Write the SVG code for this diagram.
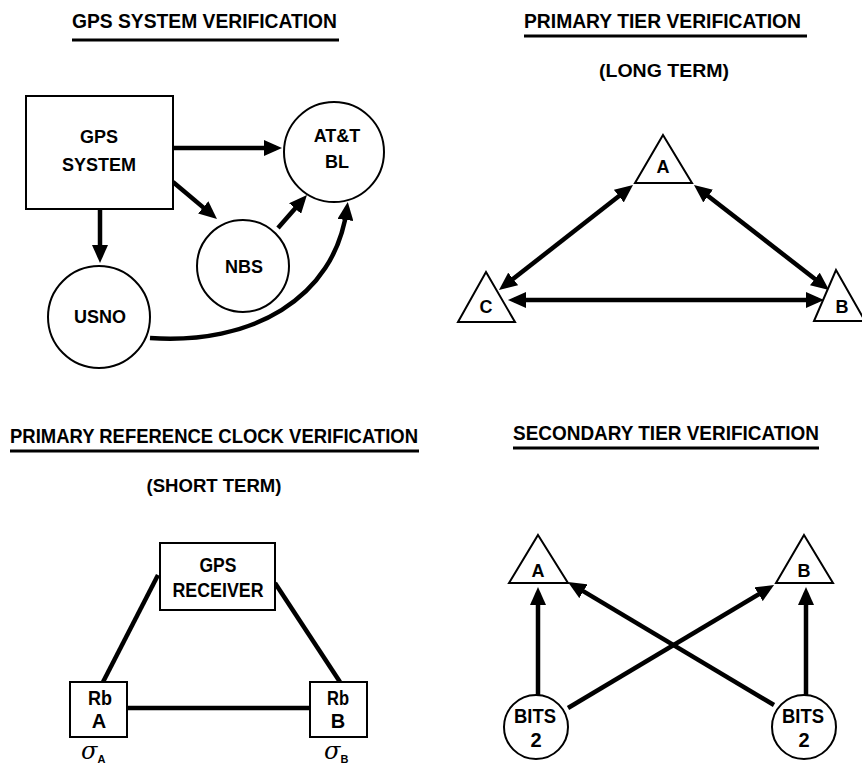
<svg xmlns="http://www.w3.org/2000/svg" width="862" height="767" viewBox="0 0 862 767">
<style>
text{font-family:"Liberation Sans",Arial,sans-serif;font-weight:bold;fill:#000;text-anchor:middle}
.title{font-size:21px;text-anchor:start}
.sub{font-size:19px}
.lbl{font-size:18px}
.lbl2{font-size:20px}
.node{fill:#fff;stroke:#000;stroke-width:2}
.ul{stroke:#000;stroke-width:3}
.arr{fill:none;stroke:#000;stroke-width:4.5}
.sig{font-family:"DejaVu Serif","Liberation Serif",serif;font-style:italic;font-weight:normal;font-size:24px;text-anchor:start}
.sigsub{font-family:"Liberation Sans",Arial,sans-serif;font-style:normal;font-weight:bold;font-size:11px}
</style>
<defs>
<marker id="ah" viewBox="0 0 18 16" refX="12" refY="8" markerWidth="18" markerHeight="16" markerUnits="userSpaceOnUse" orient="auto-start-reverse">
<path d="M0,0 L18,8 L0,16 z" fill="#000"/>
</marker>
</defs>
<rect width="862" height="767" fill="#fff"/>

<!-- Titles -->
<g id="titles">
<text class="title" x="72" y="28" textLength="265" lengthAdjust="spacingAndGlyphs">GPS SYSTEM VERIFICATION</text>
<line class="ul" x1="72" y1="40" x2="339" y2="40"/>
<text class="title" x="524" y="28" textLength="277" lengthAdjust="spacingAndGlyphs">PRIMARY TIER VERIFICATION</text>
<line class="ul" x1="524" y1="36" x2="807" y2="36"/>
<text class="sub" x="664" y="77" textLength="130" lengthAdjust="spacingAndGlyphs">(LONG TERM)</text>
<text class="title" x="10" y="443" textLength="408" lengthAdjust="spacingAndGlyphs">PRIMARY REFERENCE CLOCK VERIFICATION</text>
<line class="ul" x1="10" y1="451" x2="419" y2="451"/>
<text class="sub" x="214" y="492" textLength="135" lengthAdjust="spacingAndGlyphs">(SHORT TERM)</text>
<text class="title" x="513" y="440" textLength="306" lengthAdjust="spacingAndGlyphs">SECONDARY TIER VERIFICATION</text>
<line class="ul" x1="513" y1="448" x2="819" y2="448"/>
</g>

<!-- Connectors -->
<g id="connectors">
<!-- GPS system verification -->
<line class="arr" x1="173" y1="148" x2="276" y2="148" marker-end="url(#ah)"/>
<line class="arr" x1="173" y1="182" x2="212.4" y2="215.1" marker-end="url(#ah)"/>
<line class="arr" x1="278" y1="228" x2="303" y2="199.5" marker-end="url(#ah)"/>
<line class="arr" x1="100" y1="209" x2="100" y2="257" marker-end="url(#ah)"/>
<path class="arr" d="M150,338 C250,345 335,300 347,208" marker-end="url(#ah)"/>
<!-- Primary tier -->
<line class="arr" x1="628.3" y1="188.7" x2="503.7" y2="286.3" marker-start="url(#ah)" marker-end="url(#ah)"/>
<line class="arr" x1="698.7" y1="188.7" x2="824.3" y2="286.3" marker-start="url(#ah)" marker-end="url(#ah)"/>
<line class="arr" x1="514" y1="300" x2="818" y2="300" marker-start="url(#ah)" marker-end="url(#ah)"/>
<!-- Primary reference clock -->
<line class="arr" x1="158" y1="575" x2="103" y2="682"/>
<line class="arr" x1="275" y1="583" x2="340" y2="682"/>
<line class="arr" x1="127" y1="708" x2="310" y2="708"/>
<!-- Secondary tier -->
<line class="arr" x1="538" y1="697" x2="538" y2="593" marker-end="url(#ah)"/>
<line class="arr" x1="806" y1="697" x2="806" y2="593" marker-end="url(#ah)"/>
<line class="arr" x1="568" y1="708" x2="768.9" y2="588.1" marker-end="url(#ah)"/>
<line class="arr" x1="774" y1="705" x2="573.1" y2="585.1" marker-end="url(#ah)"/>
</g>

<!-- GPS system verification nodes -->
<g id="gps-system">
<rect class="node" x="26" y="96" width="147" height="113"/>
<text class="lbl" x="99" y="143">GPS</text>
<text class="lbl" x="99" y="171">SYSTEM</text>
</g>
<g id="att-bl">
<circle class="node" cx="334" cy="152" r="50"/>
<text class="lbl" x="337" y="142">AT&amp;T</text>
<text class="lbl" x="337" y="168">BL</text>
</g>
<g id="nbs">
<circle class="node" cx="243" cy="266" r="46"/>
<text class="lbl" x="244" y="273">NBS</text>
</g>
<g id="usno">
<circle class="node" cx="99" cy="317" r="51"/>
<text class="lbl" x="100" y="323">USNO</text>
</g>

<!-- Primary tier nodes -->
<g id="pt-a">
<polygon class="node" points="663,135 692,183 635,183"/>
<text class="lbl" x="663" y="173">A</text>
</g>
<g id="pt-c">
<polygon class="node" points="486,272 515,322 458,322"/>
<text class="lbl" x="486" y="313">C</text>
</g>
<g id="pt-b">
<polygon class="node" points="836,270 865,321 814,321"/>
<text class="lbl" x="842" y="313">B</text>
</g>

<!-- Primary reference clock nodes -->
<g id="gps-receiver">
<rect class="node" x="160" y="543" width="115" height="67"/>
<text class="lbl2" x="218" y="572" textLength="37" lengthAdjust="spacingAndGlyphs">GPS</text>
<text class="lbl2" x="218" y="597" textLength="91" lengthAdjust="spacingAndGlyphs">RECEIVER</text>
</g>
<g id="rb-a">
<rect class="node" x="70" y="682" width="57" height="55"/>
<text class="lbl2" x="100" y="705" textLength="24" lengthAdjust="spacingAndGlyphs">Rb</text>
<text class="lbl2" x="99" y="728">A</text>
</g>
<g id="rb-b">
<rect class="node" x="310" y="682" width="57" height="55"/>
<text class="lbl2" x="338" y="705" textLength="22" lengthAdjust="spacingAndGlyphs">Rb</text>
<text class="lbl2" x="338" y="728">B</text>
</g>
<g id="sigma-a">
<text class="sig" x="81" y="759">σ<tspan class="sigsub" dy="4">A</tspan></text>
</g>
<g id="sigma-b">
<text class="sig" x="324" y="759">σ<tspan class="sigsub" dy="4">B</tspan></text>
</g>

<!-- Secondary tier nodes -->
<g id="st-a">
<polygon class="node" points="538,535 568,583 509,583"/>
<text class="lbl" x="538" y="577">A</text>
</g>
<g id="st-b">
<polygon class="node" points="804,535 833,583 776,583"/>
<text class="lbl" x="804" y="577">B</text>
</g>
<g id="bits-left">
<circle class="node" cx="536" cy="727" r="32"/>
<text class="lbl2" x="535" y="723" textLength="42" lengthAdjust="spacingAndGlyphs">BITS</text>
<text class="lbl2" x="536" y="747">2</text>
</g>
<g id="bits-right">
<circle class="node" cx="804" cy="727" r="32"/>
<text class="lbl2" x="803" y="723" textLength="42" lengthAdjust="spacingAndGlyphs">BITS</text>
<text class="lbl2" x="804" y="747">2</text>
</g>
</svg>
